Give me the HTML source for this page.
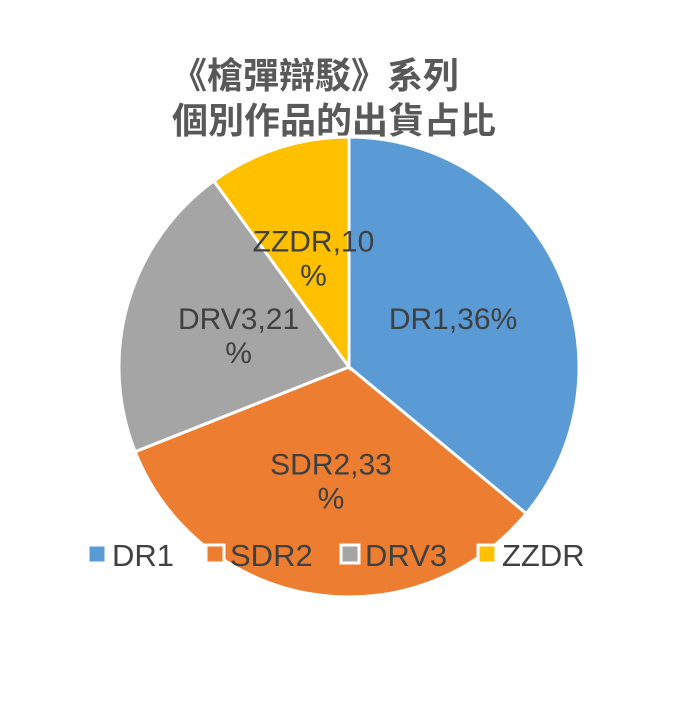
<!DOCTYPE html>
<html><head><meta charset="utf-8"><style>
body{margin:0;background:#fff;width:700px;height:706px;overflow:hidden}
text{font-family:"Liberation Sans","Noto Sans CJK TC",sans-serif}
</style></head><body>
<svg id="chart" width="700" height="706" viewBox="0 0 700 706">
<text x="315" y="88" text-anchor="middle" font-size="36" font-weight="bold" fill="#595959">《槍彈辯駁》系列</text>
<text x="334" y="133" text-anchor="middle" font-size="36" font-weight="bold" fill="#595959">個別作品的出貨占比</text>
<g id="slices"></g>
<g id="labels"></g>
<g id="legend"></g>
</svg>
<script>
const categories=["DR1","SDR2","DRV3","ZZDR"];
const values=[36,33,21,10];
const colors=["#5b9bd5","#ed7d31","#a5a5a5","#ffc000"];
const labelLines=[["DR1,36%"],["SDR2,33","%"],["DRV3,21","%"],["ZZDR,10","%"]];
const ns="http://www.w3.org/2000/svg";
const cx=349,cy=367,r=230;
const total=values.reduce((a,b)=>a+b,0);
const sl=document.getElementById('slices'),lb=document.getElementById('labels'),lg=document.getElementById('legend');
let a0=0;
values.forEach((v,i)=>{
  const a1=a0+v/total*2*Math.PI;
  const x0=cx+r*Math.sin(a0),y0=cy-r*Math.cos(a0),x1=cx+r*Math.sin(a1),y1=cy-r*Math.cos(a1);
  const p=document.createElementNS(ns,'path');
  p.setAttribute('d',`M${cx},${cy}L${x0},${y0}A${r},${r} 0 ${a1-a0>Math.PI?1:0} 1 ${x1},${y1}Z`);
  p.setAttribute('fill',colors[i]);p.setAttribute('stroke','#fff');p.setAttribute('stroke-width','3');
  
  
  sl.appendChild(p);
  const am=(a0+a1)/2,lr=r*0.5;
  const lx=cx+lr*Math.sin(am),ly=cy-lr*Math.cos(am);
  const lines=labelLines[i];
  lines.forEach((t,j)=>{
    const tx=document.createElementNS(ns,'text');
    tx.setAttribute('x',lx);tx.setAttribute('y',ly+11+(j-(lines.length-1)/2)*34);
    tx.setAttribute('text-anchor','middle');tx.setAttribute('font-size','30');tx.setAttribute('fill','#404040');
    tx.textContent=t;
    
    
    lb.appendChild(tx);
  });
  a0=a1;
});
const legX=[88,206,341,478];
categories.forEach((c,i)=>{
  const g=document.createElementNS(ns,'g');
  
  
  const rc=document.createElementNS(ns,'rect');
  rc.setAttribute('x',legX[i]);rc.setAttribute('y',545);rc.setAttribute('width',18);rc.setAttribute('height',18);
  rc.setAttribute('fill',colors[i]);rc.setAttribute('stroke','#fff');rc.setAttribute('stroke-width','3');
  g.appendChild(rc);
  const t=document.createElementNS(ns,'text');
  t.setAttribute('x',legX[i]+24);t.setAttribute('y',566);t.setAttribute('font-size','31');t.setAttribute('fill','#404040');
  t.textContent=c;g.appendChild(t);
  lg.appendChild(g);
});
</script>
</body></html>
